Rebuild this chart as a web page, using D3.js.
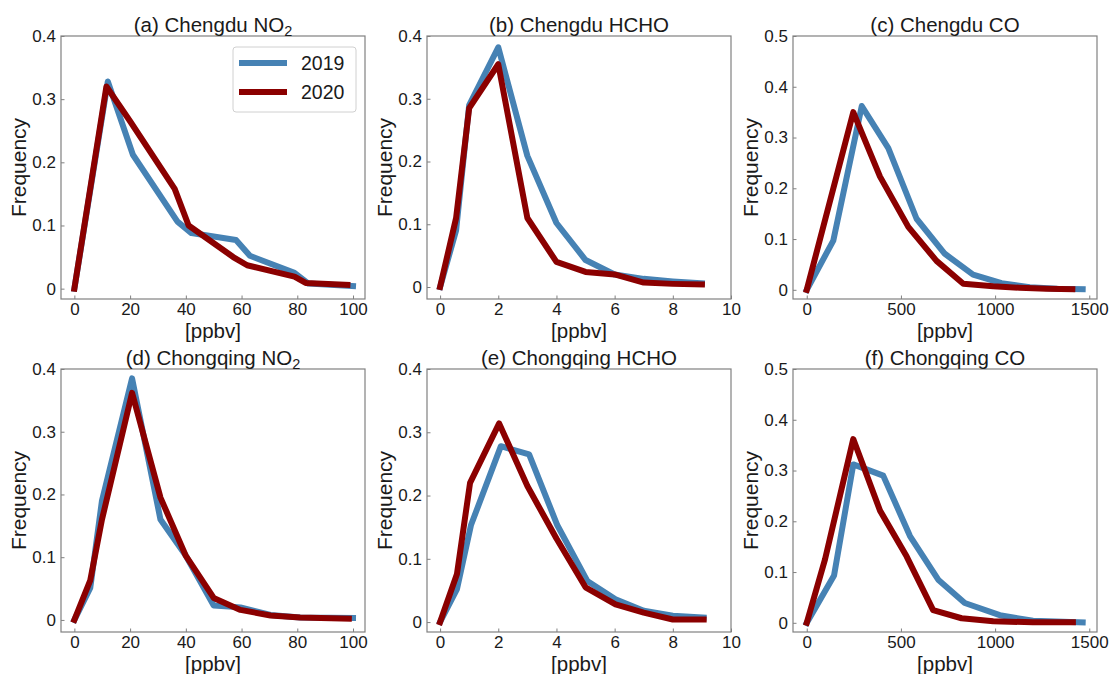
<!DOCTYPE html>
<html>
<head>
<meta charset="utf-8">
<script src="https://cdn.jsdelivr.net/npm/d3@7"></script>
<style>
  body { margin: 0; background: #fff; }
  svg { font-family: Arial, "Liberation Sans", sans-serif; }
</style>
</head>
<body>
<div id="container"></div>
<script>
/* DATA */
const years = ["2019", "2020"];
const letters = ["a", "b", "c", "d", "e", "f"];
const cities = ["Chengdu", "Chengdu", "Chengdu", "Chongqing", "Chongqing", "Chongqing"];
const speciesMain = ["NO", "HCHO", "CO", "NO", "HCHO", "CO"];
const speciesSub = ["2", "", "", "2", "", ""];

// [ppbv, frequency]
const cdNO2_2019 = [[0,0],[12,0.328],[21,0.212],[37,0.106],[42,0.088],[58,0.077],[63,0.052],[79,0.025],[84,0.008],[100,0.004]];
const cdNO2_2020 = [[0,0],[11.5,0.32],[20,0.265],[36,0.158],[41,0.1],[57,0.05],[62,0.037],[79,0.019],[83,0.009],[98,0.006]];
const cdHCHO_2019 = [[0,0],[0.55,0.09],[1,0.29],[2,0.382],[3,0.209],[4,0.102],[5,0.043],[6,0.02],[7,0.013],[8,0.009],[9,0.006]];
const cdHCHO_2020 = [[0,0],[0.55,0.11],[1,0.285],[2,0.355],[3,0.11],[4,0.04],[5,0.024],[6,0.02],[7,0.007],[8,0.005],[9,0.004]];
const cdCO_2019 = [[0,0],[141,0.097],[292,0.362],[433,0.279],[583,0.14],[733,0.071],[883,0.03],[1034,0.013],[1184,0.005],[1330,0.002],[1465,0.001]];
const cdCO_2020 = [[0,0],[247,0.35],[389,0.223],[539,0.124],[689,0.057],[831,0.012],[990,0.007],[1130,0.004],[1272,0.002],[1410,0.001]];
const cqNO2_2019 = [[0,0],[5.7,0.051],[9.9,0.19],[20.7,0.385],[30.9,0.16],[39.9,0.103],[50,0.023],[59.6,0.02],[70.4,0.008],[81,0.004],[100,0.003]];
const cqNO2_2020 = [[0,0],[5.7,0.063],[9.9,0.16],[20.7,0.362],[30.9,0.195],[39.9,0.103],[50,0.035],[59.6,0.016],[70.4,0.007],[81,0.004],[98.5,0.002]];
const cqHCHO_2019 = [[0,0],[0.58,0.052],[1.06,0.153],[2.09,0.278],[3.06,0.265],[4.03,0.153],[5.06,0.065],[6.03,0.036],[7,0.018],[8,0.01],[9.06,0.007]];
const cqHCHO_2020 = [[0,0],[0.58,0.076],[1.03,0.22],[2.03,0.314],[3,0.215],[4,0.132],[5,0.055],[6.03,0.028],[7,0.015],[8,0.004],[9.06,0.004]];
const cqCO_2019 = [[0,0],[145,0.093],[247,0.312],[406,0.29],[548,0.171],[698,0.085],[839,0.039],[1025,0.015],[1201,0.004],[1465,0.001]];
const cqCO_2020 = [[0,0],[97,0.125],[247,0.362],[389,0.221],[530,0.131],[671,0.025],[822,0.009],[990,0.003],[1200,0.001],[1413,0.001]];

// axis limits and ticks, one per column
const xLimits = [[-4.8, 104.3], [-0.45, 10], [-73, 1541]];
const xTicks = [[0, 20, 40, 60, 80, 100], [0, 2, 4, 6, 8, 10], [0, 500, 1000, 1500]];
const yTops = [0.4, 0.4, 0.5];
const yTicks = [[0, 0.1, 0.2, 0.3, 0.4], [0, 0.1, 0.2, 0.3, 0.4], [0, 0.1, 0.2, 0.3, 0.4, 0.5]];

const series2019 = [cdNO2_2019, cdHCHO_2019, cdCO_2019, cqNO2_2019, cqHCHO_2019, cqCO_2019];
const series2020 = [cdNO2_2020, cdHCHO_2020, cdCO_2020, cqNO2_2020, cqHCHO_2020, cqCO_2020];

/* CONSTANTS */
const width = 1110;
const height = 674;
const lefts = [61, 427, 793];
const tops = [36, 369];
const pw = 304;
const ph = 263;
const colors = ["#4682b4", "#8b0000"];
const spineColor = "#808080";

const svg = d3.select("#container")
  .append("svg")
  .attr("width", width)
  .attr("height", height)
  .style("background", "#fff");

const yFmt = d => d === 0 ? "0" : d3.format(".1f")(d);

letters.forEach((letter, i) => {
  const col = i % 3;
  const row = Math.floor(i / 3);
  const s19 = series2019[i];
  const s20 = series2020[i];
  const yMax = d3.max(s19.concat(s20), d => d[1]);

  const xScale = d3.scaleLinear().domain(xLimits[col]).range([0, pw]);
  const yScale = d3.scaleLinear().domain([-0.05 * yMax, yTops[col]]).range([ph, 0]);

  const g = svg.append("g")
    .attr("transform", `translate(${lefts[col]},${tops[row]})`);

  // axes
  const xAxis = g.append("g")
    .attr("transform", `translate(0,${ph})`)
    .call(d3.axisBottom(xScale).tickValues(xTicks[col]).tickFormat(d3.format("d"))
      .tickSizeInner(-3.5).tickSizeOuter(0).tickPadding(4));
  const yAxis = g.append("g")
    .call(d3.axisLeft(yScale).tickValues(yTicks[col]).tickFormat(yFmt)
      .tickSizeInner(-3.5).tickSizeOuter(0).tickPadding(5));

  [xAxis, yAxis].forEach(ax => {
    ax.select(".domain").remove();
    ax.selectAll(".tick line").attr("stroke", spineColor);
    ax.selectAll(".tick text")
      .attr("fill", "#1a1a1a")
      .style("font-size", "17px")
      .style("font-family", "Arial, 'Liberation Sans', sans-serif");
  });

  // lines
  const line = d3.line().x(d => xScale(d[0])).y(d => yScale(d[1]));
  g.append("defs").append("clipPath").attr("id", "clip" + i)
    .append("rect").attr("width", pw).attr("height", ph);
  [s19, s20].forEach((s, k) => {
    g.append("path")
      .datum(s)
      .attr("d", line)
      .attr("clip-path", `url(#clip${i})`)
      .attr("fill", "none")
      .attr("stroke", colors[k])
      .attr("stroke-width", 6)
      .attr("stroke-linecap", "square")
      .attr("stroke-linejoin", "round");
  });

  // frame
  g.append("rect")
    .attr("width", pw)
    .attr("height", ph)
    .attr("fill", "none")
    .attr("stroke", spineColor)
    .attr("stroke-width", 1.2);

  // title
  const title = g.append("text")
    .attr("x", pw / 2)
    .attr("y", -4.5)
    .attr("text-anchor", "middle")
    .style("font-size", "20.5px")
    .attr("fill", "#1a1a1a");
  title.append("tspan").text(`(${letter}) ${cities[i]} ${speciesMain[i]}`);
  if (speciesSub[i]) {
    title.append("tspan").attr("dy", 4).style("font-size", "14.5px").text(speciesSub[i]);
  }

  // axis labels
  g.append("text")
    .attr("x", pw / 2)
    .attr("y", ph + 39)
    .attr("text-anchor", "middle")
    .style("font-size", "20.5px")
    .attr("fill", "#1a1a1a")
    .text("[ppbv]");
  g.append("text")
    .attr("transform", `translate(-35,${ph / 2}) rotate(-90)`)
    .attr("text-anchor", "middle")
    .style("font-size", "21px")
    .attr("fill", "#1a1a1a")
    .text("Frequency");

  // legend in first panel
  if (i === 0) {
    const lg = g.append("g").attr("transform", `translate(${pw - 132},11)`);
    lg.append("rect")
      .attr("width", 123)
      .attr("height", 65)
      .attr("rx", 3)
      .attr("fill", "#fff")
      .attr("fill-opacity", 0.8)
      .attr("stroke", "#d0d0d0");
    years.forEach((yr, k) => {
      const yy = 16 + k * 29;
      lg.append("line")
        .attr("x1", 6).attr("x2", 54)
        .attr("y1", yy).attr("y2", yy)
        .attr("stroke", colors[k])
        .attr("stroke-width", 6);
      lg.append("text")
        .attr("x", 68)
        .attr("y", yy + 7)
        .style("font-size", "19.5px")
        .attr("fill", "#1a1a1a")
        .text(yr);
    });
  }
});
</script>
</body>
</html>
